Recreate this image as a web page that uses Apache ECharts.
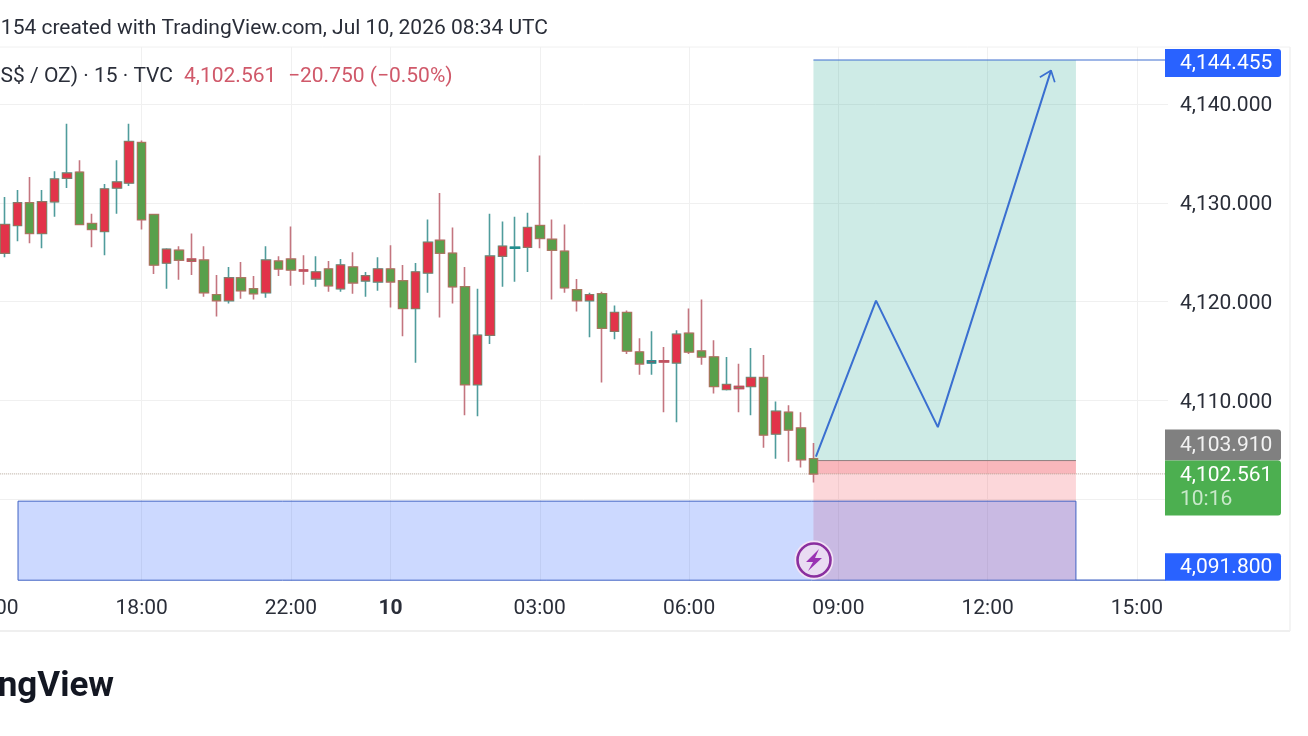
<!DOCTYPE html>
<html>
<head>
<meta charset="utf-8">
<style>html,body{margin:0;padding:0;background:#fff}#c{width:1308px;height:736px}</style>
<script src="https://cdn.jsdelivr.net/npm/echarts@6/dist/echarts.min.js"></script>
</head>
<body>
<div id="c"></div>
<script>
// Candle values, bar index 0 is just off the left edge.
const opens = [4126.0,4124.9,4127.7,4130.0,4126.9,4130.1,4132.5,4133.1,4127.9,4127.1,4131.5,4132.0,4136.1,4128.8,4123.9,4125.2,4124.3,4124.2,4120.7,4120.1,4122.4,4121.3,4120.9,4124.1,4124.3,4123.2,4122.3,4123.3,4121.3,4123.5,4122.1,4122.0,4123.3,4122.1,4119.3,4122.9,4126.2,4124.9,4121.5,4111.6,4116.6,4124.6,4125.4,4125.5,4127.7,4126.3,4125.1,4121.2,4120.1,4120.8,4117.0,4118.9,4114.9,4113.8,4114.0,4113.8,4116.8,4115.0,4114.4,4111.1,4111.4,4111.4,4112.3,4106.6,4108.8,4107.2,4104.1];
const closes = [4124.5,4127.8,4130.0,4126.9,4130.1,4132.4,4133.0,4127.8,4127.3,4131.4,4132.1,4136.2,4128.3,4123.7,4125.3,4124.2,4124.1,4120.9,4120.1,4122.4,4121.1,4120.8,4124.2,4123.3,4123.2,4123.1,4123.0,4121.6,4123.7,4121.9,4122.6,4123.3,4122.0,4119.3,4123.0,4126.0,4124.9,4121.5,4111.6,4116.6,4124.6,4125.6,4125.5,4127.5,4126.4,4125.2,4121.4,4120.1,4120.7,4117.3,4118.9,4115.0,4113.7,4114.0,4113.9,4116.7,4114.9,4114.4,4111.4,4111.6,4111.2,4112.3,4106.5,4108.9,4107.0,4104.0,4102.561];
const lows = [4123.5,4124.5,4126.1,4125.9,4125.4,4128.6,4131.5,4127.8,4125.5,4124.7,4128.9,4131.7,4127.3,4122.8,4121.3,4122.2,4122.7,4120.5,4118.5,4119.8,4120.3,4120.2,4120.4,4122.6,4121.6,4121.7,4121.5,4121.0,4121.0,4120.8,4120.5,4121.1,4119.4,4116.5,4113.8,4120.9,4118.4,4119.8,4108.5,4108.4,4115.7,4121.5,4122.0,4123.0,4125.4,4120.2,4120.9,4119.0,4116.4,4111.8,4116.2,4114.7,4112.6,4112.6,4108.8,4107.8,4114.7,4113.6,4110.7,4111.0,4108.8,4108.5,4105.2,4104.1,4103.8,4103.2,4101.7];
const highs = [4127.5,4130.6,4131.3,4132.6,4131.3,4133.2,4138.0,4134.3,4128.9,4131.9,4134.3,4138.0,4136.3,4128.8,4125.4,4125.6,4126.9,4125.6,4122.7,4123.5,4124.0,4122.6,4125.6,4124.6,4127.6,4124.7,4124.6,4124.1,4124.3,4125.0,4123.0,4124.5,4125.7,4123.7,4123.9,4128.3,4131.0,4127.5,4123.5,4121.3,4128.9,4128.1,4128.6,4129.0,4134.8,4128.3,4127.8,4122.3,4120.9,4121.0,4119.6,4119.1,4116.3,4117.0,4115.4,4117.1,4119.3,4120.2,4116.1,4114.4,4113.7,4115.3,4114.6,4109.9,4109.5,4108.8,4105.7];

const barSlots = 95;
const tickIndex = [0,12,24,32,44,56,68,80,92];
const tickLabels = ['15:00','18:00','22:00','10','03:00','06:00','09:00','12:00','15:00'];
const priceTicks = [4100,4110,4120,4130,4140];

// Drawing tools on the chart, as [bar position, price].
const targetPrice = 4144.455, entryPrice = 4103.910, lastPrice = 4102.561, stopPrice = 4091.800;
const zoneTop = 4099.8;
const toolStart = 66, toolEnd = 87.1, zoneStart = 2.06, axisEnd = 94.3;
const pathX = [66.2,71.03,76.0,85.1];
const pathY = [4104.3,4120.1,4107.3,4143.4];
const headX = [84.2,85.1,85.4];
const headY = [4142.7,4143.4,4142.2];
const tagPrices = [4144.455,4103.910,4102.561,4091.800];
const tagText = ['4,144.455','4,103.910','4,102.561','4,091.800'];
const countdown = '10:16';

const FONT = 'Roboto, sans-serif';
const WICK_UP = '#4f9c9c', WICK_DOWN = '#c4757f';
const categories = Array.from({length: barSlots}, (_, i) => String(i));
const candle = opens.map((o, i) => [o, closes[i], lows[i], highs[i]]);
const bodies = opens.map((o, i) => {
  const c = closes[i], value = [o, c, Math.min(o, c), Math.max(o, c)];
  if (Math.abs(o - c) > 0.25) return value;
  return {value, itemStyle:{borderColor:c > o ? '#1f8f8f' : '#c2505f', borderColor0:c > o ? '#1f8f8f' : '#c2505f', borderWidth:1.4}};
});
const pairs = (xs, ys) => xs.map((x, i) => [x, ys[i]]);

const tagStyle = [
  {fill:'#2962ff', off:-11, h:28},
  {fill:'#808080', off:-31, h:31},
  {fill:'#4caf50', off:-13.5, h:55},
  {fill:'#2962ff', off:-27, h:27.5}
];

const chart = echarts.init(document.getElementById('c'), null, {renderer:'canvas'});
const lineBase = {type:'line', xAxisIndex:1, yAxisIndex:0, showSymbol:false, symbol:'none', silent:true, animation:false};

chart.setOption({
  animation:false,
  backgroundColor:'#ffffff',
  textStyle:{fontFamily:FONT},
  grid:{left:-13.82, top:47, width:1181.8, height:534, containLabel:false, outerBoundsMode:'none'},
  xAxis:[
    {type:'category', data:categories, boundaryGap:true,
     axisLine:{show:false}, axisTick:{show:false, alignWithLabel:true},
     splitLine:{show:true, alignWithLabel:true, interval:(i)=>tickIndex.includes(i), lineStyle:{color:'#f0f0f0', width:1}},
     axisLabel:{show:true, interval:(i)=>tickIndex.includes(i), margin:17, color:'#2a2e39', fontSize:21, fontFamily:FONT, hideOverlap:false,
       formatter:(v)=>{const k=tickIndex.indexOf(+v); if(k<0) return ''; return tickLabels[k]==='10'?'{b|10}':tickLabels[k];},
       rich:{b:{fontWeight:'bold', fontSize:21, color:'#2a2e39', fontFamily:FONT}}}},
    {type:'value', min:-0.5, max:barSlots-0.5, show:false, splitLine:{show:false}}
  ],
  yAxis:{type:'value', position:'right', min:4091.72, max:4145.77, scale:true,
    axisLine:{show:false}, axisTick:{show:false, customValues:priceTicks},
    splitLine:{show:true, lineStyle:{color:'#f0f0f0', width:1}},
    axisLabel:{margin:12, color:'#2a2e39', fontSize:21, fontFamily:FONT, verticalAlign:'top', lineHeight:4, customValues:priceTicks.slice(1),
      formatter:(v)=>v.toLocaleString('en-US',{minimumFractionDigits:3,maximumFractionDigits:3})}},
  series:[
    {...lineBase, name:'tool', data:[[toolStart,targetPrice]], lineStyle:{width:0}, z:1,
      markArea:{silent:true, data:[
        [{coord:[toolStart,targetPrice], itemStyle:{color:'rgba(8,153,129,0.2)'}},{coord:[toolEnd,entryPrice]}],
        [{coord:[toolStart,entryPrice], itemStyle:{color:'rgba(242,54,69,0.2)'}},{coord:[toolEnd,stopPrice]}],
        [{coord:[toolStart,entryPrice], itemStyle:{color:'rgba(242,54,69,0.2)'}},{coord:[toolEnd,lastPrice]}],
        [{coord:[zoneStart,zoneTop], itemStyle:{color:'rgba(41,98,255,0.24)', borderColor:'#3f62c4', borderWidth:1}},{coord:[toolEnd,stopPrice]}]
      ]}},
    {...lineBase, data:[[-0.5,lastPrice],[axisEnd,lastPrice]], lineStyle:{color:'#b5a79a', width:1, type:'dotted'}, z:2},
    {...lineBase, data:[[toolStart,targetPrice],[axisEnd,targetPrice]], lineStyle:{color:'#3f6fd0', width:1.2}, z:3},
    {...lineBase, data:[[toolEnd,stopPrice],[axisEnd,stopPrice]], lineStyle:{color:'#3f62c4', width:1.2}, z:3},
    {...lineBase, data:[[toolStart,entryPrice],[toolEnd,entryPrice]], lineStyle:{color:'#8f7f80', width:1}, z:3},
    {type:'candlestick', xAxisIndex:0, yAxisIndex:0, data:candle, barWidth:9, silent:true, z:4, animation:false,
      itemStyle:{color:'#e2334a', color0:'#58a04c', borderColor:WICK_UP, borderColor0:WICK_DOWN, borderWidth:1.6}},
    {type:'candlestick', xAxisIndex:0, yAxisIndex:0, data:bodies, barWidth:9, silent:true, z:5, animation:false,
      itemStyle:{color:'#e2334a', color0:'#58a04c', borderColor:'#9c7058', borderColor0:'#a07a58', borderWidth:1}},
    {...lineBase, data:pairs(pathX,pathY), lineStyle:{color:'#3a6fd0', width:2}, z:6},
    {...lineBase, data:pairs(headX,headY), lineStyle:{color:'#3a6fd0', width:1.7}, z:6},
    {type:'custom', xAxisIndex:1, yAxisIndex:0, silent:true, z:7, animation:false, clip:false,
      data:tagPrices.map((p,i)=>[axisEnd,p,i]),
      encode:{x:0,y:1},
      renderItem:(params,api)=>{
        const i=api.value(2), s=tagStyle[i], pt=api.coord([api.value(0),api.value(1)]);
        const x=1165, w=116, y=pt[1]+s.off;
        const kids=[
          {type:'rect', shape:{x,y,width:w,height:s.h,r:[0,3,3,0]}, style:{fill:s.fill}},
          {type:'text', style:{x:x+15, y:y+(i===2?15:s.h/2+1), text:tagText[i], fill:i===1?'#f2f2f2':'#ffffff', font:'21px '+FONT, textVerticalAlign:'middle', textAlign:'left'}}
        ];
        if(i===2) kids.push({type:'text', style:{x:x+15,y:y+39,text:countdown,fill:'#c9e8ca',font:'21px '+FONT,textVerticalAlign:'middle',textAlign:'left'}});
        return {type:'group', children:kids};
      }}
  ],
  graphic:[
    {type:'line', shape:{x1:0,y1:47,x2:1290,y2:47}, style:{stroke:'#f0f0f0',lineWidth:1}, z:0},
    {type:'line', shape:{x1:0,y1:631,x2:1290,y2:631}, style:{stroke:'#efefef',lineWidth:2}, z:0},
    {type:'line', shape:{x1:1290,y1:47,x2:1290,y2:631}, style:{stroke:'#f0f0f0',lineWidth:1.5}, z:0},
    {type:'text', z:20, style:{x:548,y:29,text:'154 created with TradingView.com, Jul 10, 2026 08:34 UTC',textAlign:'right',textVerticalAlign:'middle',font:'21px '+FONT,fill:'#2a2e39'}},
    {type:'text', z:20, style:{x:173,y:77,text:'GOLD (US$ / OZ) · 15 · TVC',textAlign:'right',textVerticalAlign:'middle',font:'21px '+FONT,fill:'#2a2e39'}},
    {type:'text', z:20, style:{x:184,y:77,text:'4,102.561',textAlign:'left',textVerticalAlign:'middle',font:'21px '+FONT,fill:'#d0596a'}},
    {type:'text', z:20, style:{x:288,y:77,text:'−20.750 (−0.50%)',textAlign:'left',textVerticalAlign:'middle',font:'21px '+FONT,fill:'#d0596a'}},
    {type:'text', z:20, style:{x:114,y:687,text:'TradingView',textAlign:'right',textVerticalAlign:'middle',font:'bold 35px '+FONT,fill:'#131722'}},
    {type:'circle', z:20, shape:{cx:814,cy:560,r:19.5}, style:{fill:'#f3e3f6'}},
    {type:'circle', z:21, shape:{cx:814,cy:560,r:16.5}, style:{fill:'#e9dcf2',stroke:'#8a2f9f',lineWidth:2.6}},
    {type:'polygon', z:22, shape:{points:[[819,549],[806,562],[813,562],[808,571],[822,558],[815,558]]}, style:{fill:'#9a33b3'}}
  ]
});
</script>
</body>
</html>
